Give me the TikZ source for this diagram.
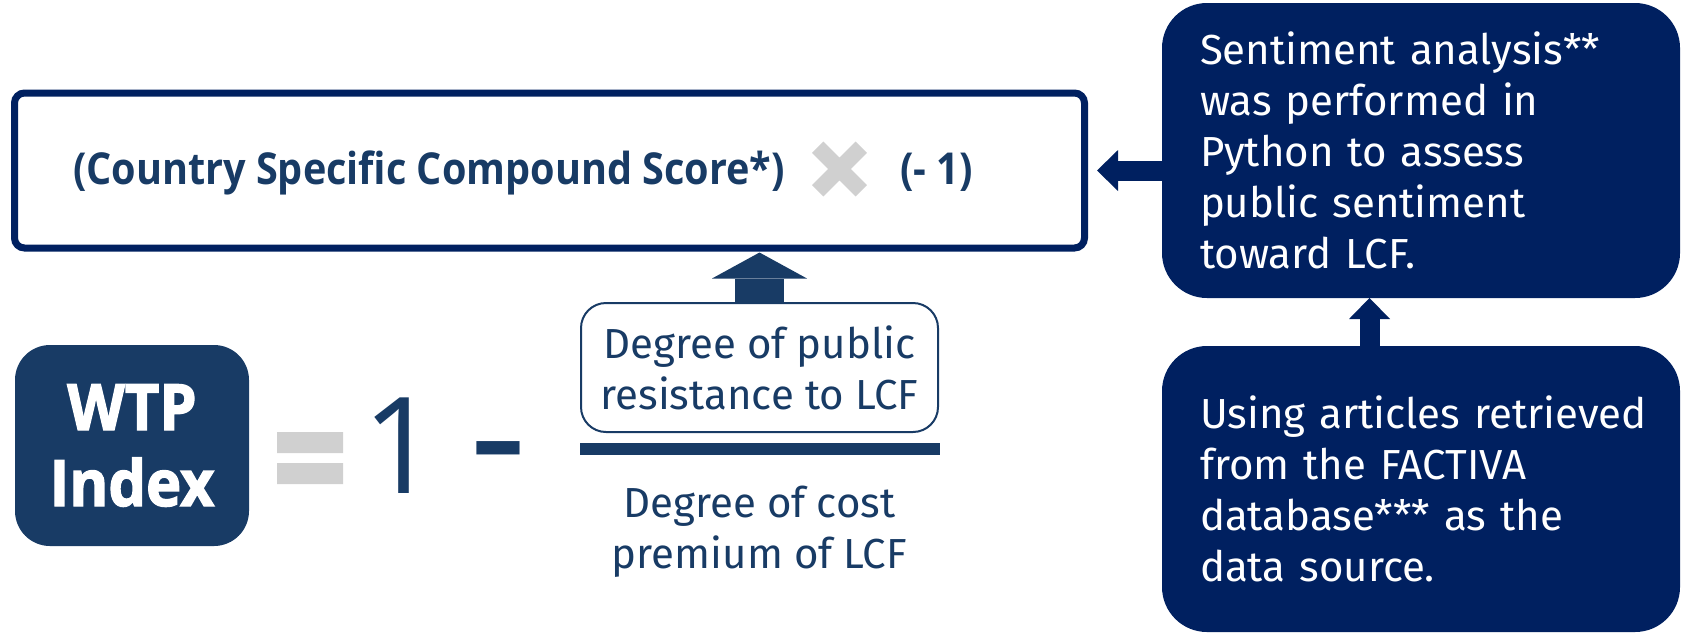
\documentclass[tikz,border=0pt]{standalone}
\usepackage{fontspec}
\setmainfont{Fira Sans}
\newfontfamily\condfont[FakeStretch=0.9]{Open Sans}
\newfontfamily\heavyfont[FakeStretch=0.93,FakeBold=2]{Open Sans}
\newfontfamily\numfont{Open Sans}
\usepackage{tikz}
\usetikzlibrary{positioning, arrows.meta}

\definecolor{boxblue}{HTML}{002060}
\definecolor{inkblue}{HTML}{183B65}
\definecolor{signgray}{HTML}{D0D0D0}

\begin{document}
\begin{tikzpicture}[
				x=1pt, y=-1pt,
				node distance = 0pt,
				every node/.style = {inner sep=0pt, outer sep=0pt},
				note/.style = {fill=boxblue, text=white, rounded corners=45pt,
					minimum width=518pt, text width=442pt, inner xsep=38pt,
					align=left, font=\fontsize{42}{51}\selectfont},
				plain/.style = {text=inkblue, align=center, font=\fontsize{42}{51}\selectfont},
				formula/.style = {anchor=base west, text=inkblue, font=\condfont\bfseries\fontsize{44}{44}\selectfont},
				bigarrow/.style = {inkblue, line width=49pt, -{Triangle[width=95pt, length=26pt, line width=0pt]}},
				smallarrow/.style = {boxblue, line width=20pt, -{Triangle[width=41pt, length=21pt, line width=0pt]}}
			]
				\useasboundingbox (0,0) rectangle (1685,633);
				%
				\node (score) [draw=boxblue, line width=7pt, rounded corners=10pt,
					minimum width=1070pt, minimum height=155pt] at (549.5,170.5) {};
				\node (cscs) [formula] at (73,184) {(Country Specific Compound Score*)};
				\node (neg) [formula] at (900,184) {(- 1)};
				\coordinate (times) at (839.5,169);
				\draw[signgray, line width=16pt] (times) ++(-21.8,-21.8) -- ++(43.6,43.6)
					(times) ++(-21.8,21.8) -- ++(43.6,-43.6);
				%
				\node (wtp) [fill=inkblue, text=white, rounded corners=35pt, align=center,
					minimum width=234pt, minimum height=201pt,
					font=\heavyfont\bfseries\fontsize{64}{76}\selectfont] at (132,445.5) {WTP\\Index};
				\fill[signgray] (277,432) rectangle (343,453) (277,463) rectangle (343,484);
				\node (one) [anchor=base, text=inkblue, font=\numfont\fontsize{134}{134}\selectfont] at (400.5,493) {1};
				\node (minus) [anchor=base, text=inkblue, font=\numfont\fontsize{180}{180}\selectfont] at (498,496) {-};
				%
				\node (num) [plain, draw=inkblue, line width=2pt, rounded corners=25pt,
					minimum width=357pt, minimum height=129pt] at (759.5,367.5) {Degree of public\\resistance to LCF};
				\node (bar) [fill=inkblue, minimum width=360pt, minimum height=12pt, below=11pt of num] {};
				\node (den) [plain, below=31pt of bar] {Degree of cost\\premium of LCF};
				%
				\node (sent) [note, minimum height=295pt] at (1421,150.5)
					{Sentiment analysis**\\was performed in\\Python to assess\\public sentiment\\toward LCF.};
				\node (src) [note, minimum height=286pt, below=48pt of sent]
					{\mbox{Using articles retrieved}\\from the FACTIVA\\database*** as the\\data source.};
				%
				\path (num.north |- score.south) ++(0,4.5) coordinate (tipB);
				\draw[bigarrow] (num.north) -- (tipB);
				\path (score.east) ++(12.5,0) coordinate (tipA);
				\draw[smallarrow] (sent.west |- tipA) -- (tipA);
				\draw[smallarrow] ([xshift=-51.5pt]src.north) -- ([xshift=-51.5pt]sent.south);

			\end{tikzpicture}
\end{document}
